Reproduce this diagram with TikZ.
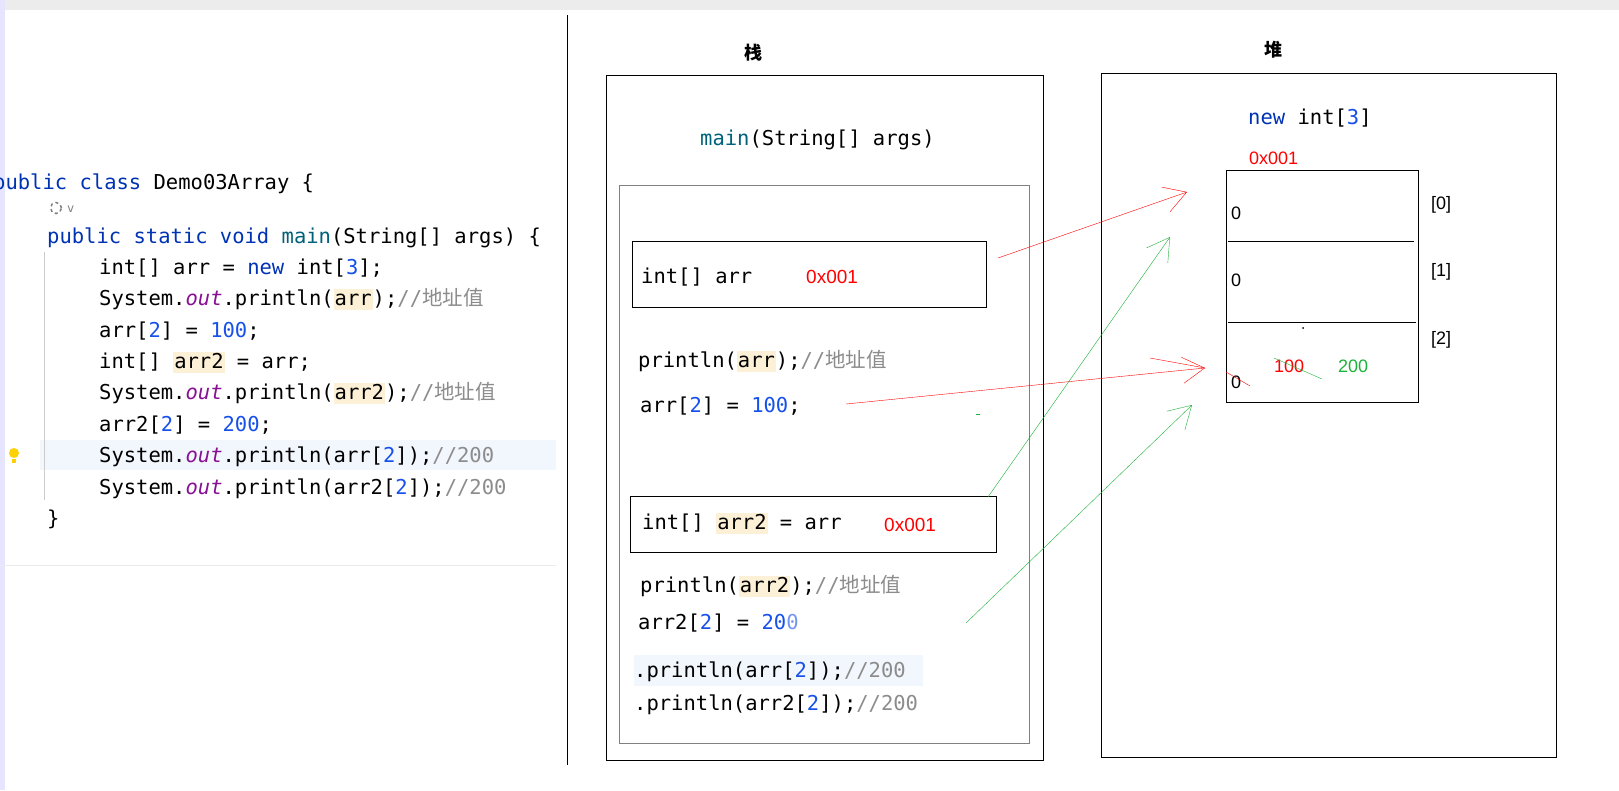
\documentclass[tikz,border=0pt]{standalone}
\usepackage{fontspec}
\setmonofont{DejaVu Sans Mono}
\setmainfont{Liberation Sans}
\newfontfamily\cjk{Noto Sans CJK SC}
\usetikzlibrary{arrows.meta}
\definecolor{kw}{HTML}{0033B3}
\definecolor{fn}{HTML}{00627A}
\definecolor{st}{HTML}{871094}
\definecolor{nm}{HTML}{1750EB}
\definecolor{cm}{HTML}{8C8C8C}
\definecolor{hlc}{HTML}{FCF1D6}
\definecolor{rowc}{HTML}{F2F6FD}
\definecolor{gr}{HTML}{1DB33A}
\newcommand\kw[1]{\textcolor{kw}{#1}}
\newcommand\myn[1]{\textcolor{nm}{#1}}
\newcommand\cmt[1]{\textcolor{cm}{#1}}
\newcommand\outx{.\textcolor{st}{\textit{out}}.}
\newcommand\hlx[1]{{\setlength{\fboxsep}{1pt}\colorbox{hlc}{\vphantom{Ag}#1}}}
\newcommand\addr{\cmt{//{\cjk 地址值}}}
\begin{document}
\begin{tikzpicture}[x=1pt,y=-1pt,
  code/.style={anchor=base west,inner sep=0,font=\ttfamily\fontsize{20.5}{24}\selectfont},
  red arr/.style={red,-{Straight Barb[length=22pt,width=26pt]}},
  grn arr/.style={gr,-{Straight Barb[length=22pt,width=26pt]}},
  lbl/.style={font=\fontsize{18}{20}\selectfont,inner sep=0}]
\useasboundingbox (0,0) rectangle (1619,790);
\fill[white] (0,0) rectangle (1619,790);
\fill[gray!15] (0,0) rectangle (1619,10);
\fill[blue!10] (0,0) rectangle (5,790);
\fill[rowc] (40,440) rectangle (556,470);
\fill[yellow!70!orange] (14,453) circle (5);
\fill[yellow!70!orange] (12,459) rectangle (16,463);
\draw[gray!40] (44,252) -- (44,500);
\draw[gray!15] (0,565) -- (556,565);
\draw (567,15) -- (567,765);
% code
\node[code] (c1) at (-7,189) {\kw{public class} Demo03Array \{};
\node[circle,draw=gray,line width=1.5pt,dashed,minimum size=11pt,inner sep=0] (c0) at (56,208) {};
\node[code,gray,font=\ttfamily\fontsize{12}{12}\selectfont] (c0b) at (67,212) {v};
\node[code] (c2) at (47,243) {\kw{public static void} \textcolor{fn}{main}(String[] args) \{};
\node[code] (c3) at (99,274) {int[] arr = \kw{new} int[\myn{3}];};
\node[code] (c4) at (99,305) {System\outx println(\hlx{arr});\addr};
\node[code] (c5) at (99,337) {arr[\myn{2}] = \myn{100};};
\node[code] (c6) at (99,368) {int[] \hlx{arr2} = arr;};
\node[code] (c7) at (99,399) {System\outx println(\hlx{arr2});\addr};
\node[code] (c8) at (99,431) {arr2[\myn{2}] = \myn{200};};
\node[code] (c9) at (99,462) {System\outx println(arr[\myn{2}]);\cmt{//200}};
\node[code] (c10) at (99,494) {System\outx println(arr2[\myn{2}]);\cmt{//200}};
\node[code] (c11) at (47,525) {\}};
% stack
\node[font=\cjk\bfseries\fontsize{18}{20}\selectfont] (sl) at (753,53) {栈};
\draw (606,75) rectangle (1043,760);
\node[code] (mn) at (700,145) {\textcolor{fn}{main}(String[] args)};
\draw[gray] (619,185) rectangle (1029,743);
\draw (632,241) rectangle (986,307);
\node[code] (sa) at (641,283) {int[] arr};
\node[code,red,font=\fontsize{19}{20}\selectfont] (sa1) at (806,283) {0x001};
\node[code] (sp1) at (638,367) {println(\hlx{arr});\addr};
\node[code] (sp2) at (640,412) {arr[\myn{2}] = \myn{100};};
\draw (630,496) rectangle (996,552);
\node[code] (sb) at (642,529) {int[] \hlx{arr2} = arr};
\node[code,red,font=\fontsize{19}{20}\selectfont] (sb1) at (884,531) {0x001};
\node[code] (sp3) at (640,592) {println(\hlx{arr2});\addr};
\node[code] (sp4) at (638,629) {arr2[\myn{2}] = \myn{20}\textcolor{nm!60}{0}};
\fill[rowc] (634,655) rectangle (923,686);
\node[code] (sp5) at (634,677) {.println(arr[\myn{2}]);\cmt{//200}};
\node[code] (sp6) at (634,710) {.println(arr2[\myn{2}]);\cmt{//200}};
% heap
\node[font=\cjk\bfseries\fontsize{18}{20}\selectfont] (hl) at (1273,50) {堆};
\draw (1101,73) rectangle (1556,757);
\node[code] (ni) at (1248,124) {\kw{new} int[\myn{3}]};
\node[lbl,red,anchor=west] (ad) at (1249,158) {0x001};
\draw (1226,170) rectangle (1418,402);
\draw (1228,241) -- (1414,241);
\draw (1228,322) -- (1416,322);
\node[lbl,anchor=west] (z0) at (1231,213) {0};
\node[lbl,anchor=west] (z1) at (1231,280) {0};
\node[lbl,anchor=west] (z2) at (1231,382) {0};
\node[lbl,anchor=west] (i0) at (1431,205) {[0]};
\node[lbl,anchor=west] (i1) at (1431,272) {[1]};
\node[lbl,anchor=west] (i2) at (1431,340) {[2]};
\node[lbl,red,anchor=west] (v1) at (1274,366) {100};
\node[lbl,gr,anchor=west] (v2) at (1338,366) {200};
\draw[red] (1226,372) -- (1250,386);
\draw[gr] (1274,358) -- (1322,379);
\fill (1303,328) circle (1);
\draw[gr] (976,414) -- (980,414);
% arrows
\coordinate (s1) at (998,258);
\coordinate (s2) at (846,404);
\coordinate (s3) at (988,497);
\coordinate (s4) at (966,623);
\coordinate (e1) at (1187,192);
\coordinate (e2) at (1205,368);
\coordinate (e3) at (1170,237);
\coordinate (e4) at (1192,405);
\draw[red arr] (s1) -- (e1);
\draw[red arr] (s2) -- (e2);
\draw[red] (1150,358) -- (e2);
\draw[grn arr] (s3) -- (e3);
\draw[grn arr] (s4) -- (e4);
\end{tikzpicture}
\end{document}
